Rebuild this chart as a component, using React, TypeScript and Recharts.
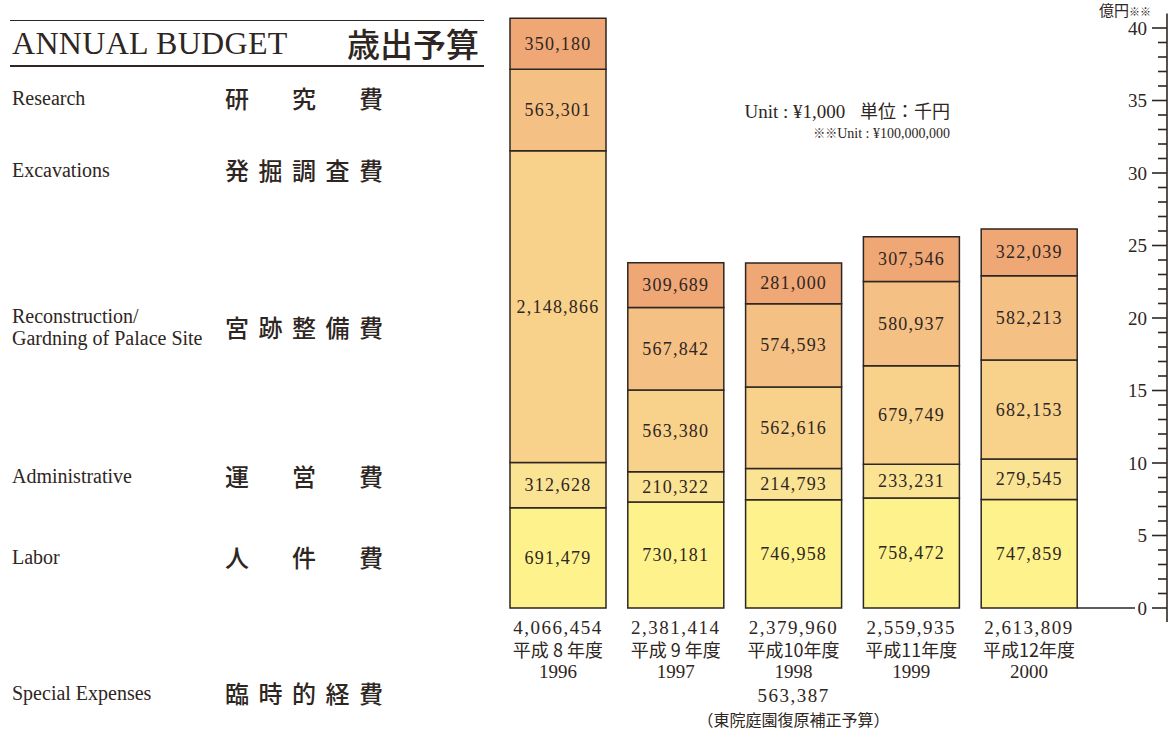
import { Bar, BarChart, LabelList, XAxis, YAxis } from "recharts";

// values in 千円 (thousand yen)
const YEARS = ["1996", "1997", "1998", "1999", "2000"];
const ERAS = ["平成 8 年度", "平成 9 年度", "平成10年度", "平成11年度", "平成12年度"];
const LABOR = [691479, 730181, 746958, 758472, 747859];
const ADMIN = [312628, 210322, 214793, 233231, 279545];
const RECON = [2148866, 563380, 562616, 679749, 682153];
const EXCAV = [563301, 567842, 574593, 580937, 582213];
const RESEARCH = [350180, 309689, 281000, 307546, 322039];
const TOTALS = [4066454, 2381414, 2379960, 2559935, 2613809];
const SPECIAL: (number | null)[] = [null, null, 563387, null, null];
const SPECIAL_NOTE = "（東院庭園復原補正予算）";

// axis in 億円 (100,000 千円)
const OKU = 100000;
const Y_TICKS = Array.from({ length: 41 }, (_, i) => i);

const W = 1176;
const H = 735;
const INK = "#2e2622";
const SERIF = "'Liberation Serif', 'Noto Sans CJK JP', serif";
const CJK = "'Noto Sans CJK JP', sans-serif";
const AXIS_PAD = 79;
const BASELINE_REACH = 90;

const SERIES = [
  { key: "labor", values: LABOR, color: "#FEF28C" },
  { key: "admin", values: ADMIN, color: "#FBE394" },
  { key: "recon", values: RECON, color: "#F8D18B" },
  { key: "excav", values: EXCAV, color: "#F5C083" },
  { key: "research", values: RESEARCH, color: "#EFA776" },
];

const rows = YEARS.map((year, i) => {
  const row: Record<string, number | string> = { year };
  SERIES.forEach((s) => {
    row[s.key] = s.values[i] / OKU;
    row[s.key + "Raw"] = s.values[i];
  });
  return row;
});

const fmt = (n: number) => n.toLocaleString("en-US");

function SegmentLabel(props: any) {
  const { x, y, width, height, value } = props;
  return (
    <text
      x={x + width / 2}
      y={y + height / 2}
      textAnchor="middle"
      dominantBaseline="central"
      fill={INK}
      fontFamily={SERIF}
      fontSize={18}
      letterSpacing={1.2}
    >
      {fmt(value)}
    </text>
  );
}

function YearTick(props: any) {
  const { x, y, index } = props;
  const special = SPECIAL[index];
  return (
    <g fill={INK}>
      <text x={x} y={y + 26} textAnchor="middle" fontFamily={SERIF} fontSize={19} letterSpacing={1.5}>
        {fmt(TOTALS[index])}
      </text>
      <text x={x} y={y + 49} textAnchor="middle" fontFamily={CJK} fontSize={18}>
        {ERAS[index]}
      </text>
      <text x={x} y={y + 70} textAnchor="middle" fontFamily={SERIF} fontSize={19}>
        {YEARS[index]}
      </text>
      {special != null && (
        <>
          <text x={x} y={y + 94} textAnchor="middle" fontFamily={SERIF} fontSize={19} letterSpacing={1.5}>
            {fmt(special)}
          </text>
          <text x={x} y={y + 118} textAnchor="middle" fontFamily={CJK} fontSize={16}>
            {SPECIAL_NOTE}
          </text>
        </>
      )}
    </g>
  );
}

function ValueTick(props: any) {
  const { x, payload } = props;
  const y = payload.coordinate;
  const v = payload.value;
  const major = v % 5 === 0;
  return (
    <g stroke={INK} strokeWidth={1.6}>
      <line x1={x - (major ? 15 : 9)} y1={y} x2={x} y2={y} />
      {v === 0 && (
        <>
          <line x1={x - BASELINE_REACH} y1={y} x2={x - 32} y2={y} />
          <line x1={x} y1={y} x2={x} y2={y + 14} />
        </>
      )}
      {major && (
        <text
          x={x - 20}
          y={y}
          textAnchor="end"
          dominantBaseline="central"
          stroke="none"
          fill={INK}
          fontFamily={SERIF}
          fontSize={19}
        >
          {v}
        </text>
      )}
    </g>
  );
}

function SpreadJp({ text }: { text: string }) {
  return (
    <div
      style={{
        position: "absolute",
        left: 225,
        width: 158,
        display: "flex",
        justifyContent: "space-between",
        fontFamily: CJK,
        fontSize: 24,
        lineHeight: "24px",
        fontWeight: 500,
        transform: "translateY(-50%)",
      }}
    >
      {Array.from(text).map((c, i) => (
        <span key={i}>{c}</span>
      ))}
    </div>
  );
}

const LEGEND = [
  { en: ["Research"], jp: "研究費", y: 98 },
  { en: ["Excavations"], jp: "発掘調査費", y: 170 },
  { en: ["Reconstruction/", "Gardning of Palace Site"], jp: "宮跡整備費", y: 327 },
  { en: ["Administrative"], jp: "運営費", y: 476 },
  { en: ["Labor"], jp: "人件費", y: 557 },
  { en: ["Special Expenses"], jp: "臨時的経費", y: 693 },
];

function LeftPanel() {
  return (
    <>
      <div style={{ position: "absolute", left: 10, top: 20, width: 474, borderTop: `1.5px solid ${INK}` }} />
      <div style={{ position: "absolute", left: 10, top: 65, width: 474, borderTop: `2px solid ${INK}` }} />
      <div style={{ position: "absolute", left: 12, top: 43, transform: "translateY(-50%)", fontFamily: SERIF, fontSize: 32, lineHeight: "32px", letterSpacing: 0.3 }}>
        ANNUAL BUDGET
      </div>
      <div style={{ position: "absolute", left: 347, top: 43, transform: "translateY(-50%)", fontFamily: CJK, fontSize: 33, lineHeight: "33px", fontWeight: 500 }}>
        歳出予算
      </div>
      {LEGEND.map((r) => (
        <div key={r.jp} style={{ position: "absolute", left: 0, top: r.y, width: 490 }}>
          <div style={{ position: "absolute", left: 12, transform: "translateY(-50%)", fontFamily: SERIF, fontSize: 20, lineHeight: "22px", whiteSpace: "nowrap" }}>
            {r.en.map((l) => (
              <div key={l}>{l}</div>
            ))}
          </div>
          <SpreadJp text={r.jp} />
        </div>
      ))}
    </>
  );
}

export default function App() {
  return (
    <div style={{ position: "absolute", left: 0, top: 0, width: W, height: H, background: "#fff", color: INK, overflow: "hidden" }}>
      <LeftPanel />
      <div style={{ position: "absolute", right: 226, top: 110, transform: "translateY(-50%)", whiteSpace: "nowrap", fontFamily: SERIF, fontSize: 19 }}>
        Unit : ¥1,000 <span style={{ fontFamily: CJK, fontSize: 18, marginLeft: 10 }}>単位：千円</span>
      </div>
      <div style={{ position: "absolute", right: 226, top: 133, transform: "translateY(-50%)", whiteSpace: "nowrap", fontFamily: SERIF, fontSize: 14 }}>
        <span style={{ fontFamily: CJK, fontSize: 12 }}>※※</span>Unit : ¥100,000,000
      </div>
      <div style={{ position: "absolute", left: 1099, top: 2, whiteSpace: "nowrap", fontFamily: CJK, fontSize: 15, lineHeight: "15px" }}>
        億円<span style={{ fontSize: 11 }}>※※</span>
      </div>
      <div style={{ position: "absolute", left: 0, top: 0 }}>
        <BarChart width={W} height={H} data={rows} margin={{ top: 13.5, right: 9, bottom: 27, left: 499 }}>
          <XAxis
            dataKey="year"
            height={100}
            padding={{ left: 0, right: AXIS_PAD }}
            axisLine={false}
            tickLine={false}
            tickSize={0}
            tickMargin={0}
            interval={0}
            tick={<YearTick />}
          />
          <YAxis
            orientation="right"
            mirror
            domain={[0, 41]}
            ticks={Y_TICKS}
            interval={0}
            tickLine={false}
            tickSize={0}
            tickMargin={0}
            axisLine={{ stroke: INK, strokeWidth: 1.6 }}
            tick={<ValueTick />}
          />
          {SERIES.map((s) => (
            <Bar
              key={s.key}
              dataKey={s.key}
              stackId="budget"
              barSize={96}
              fill={s.color}
              stroke={INK}
              strokeWidth={1.5}
              isAnimationActive={false}
            >
              <LabelList dataKey={s.key + "Raw"} content={<SegmentLabel />} />
            </Bar>
          ))}
        </BarChart>
      </div>
    </div>
  );
}
